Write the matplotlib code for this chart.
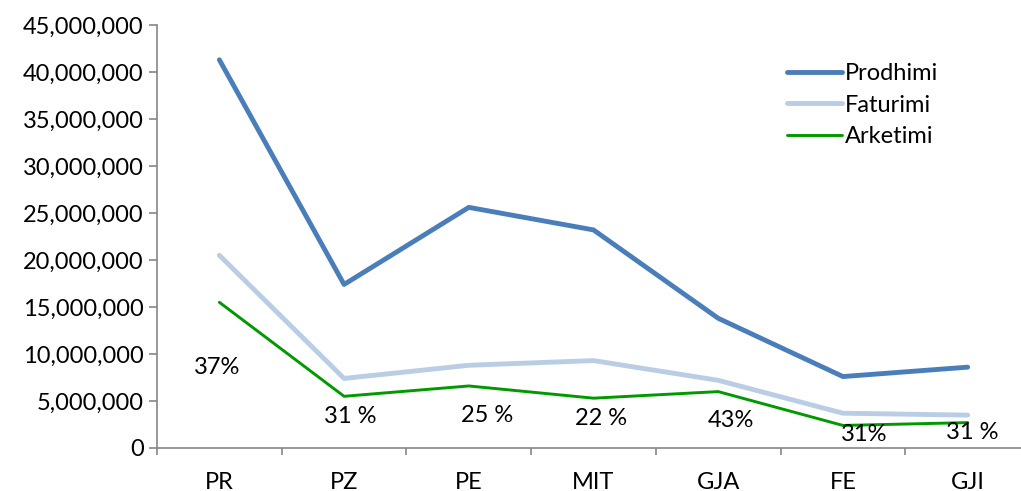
import matplotlib.pyplot as plt
import numpy as np

# data
categories = ["PR", "PZ", "PE", "MIT", "GJA", "FE", "GJI"]
prodhimi = [41300000, 17400000, 25600000, 23200000, 13800000, 7600000, 8600000]
faturimi = [20500000, 7400000, 8800000, 9300000, 7200000, 3700000, 3500000]
arketimi = [15500000, 5500000, 6600000, 5300000, 6000000, 2400000, 2700000]
pct_labels = ["37%", "31 %", "25 %", "22 %", "43%", "31%", "31 %"]

# where the percent labels sit (x offset from category, y value)
pct_dx = [-0.02, 0.05, 0.15, 0.06, 0.10, 0.17, 0.04]
pct_y = [8600000, 3300000, 3500000, 3100000, 2900000, 1400000, 1600000]

plt.rcParams['font.family'] = ['Lato', 'DejaVu Sans']
fs = 17

fig = plt.figure(figsize=(10.21, 4.91), dpi=100)
W, H = 1021, 491
ax = fig.add_axes([157 / W, (H - 448) / H, (1030 - 157) / W, (448 - 25) / H])

x = np.arange(len(categories))
ax.plot(x, prodhimi, color="#4A7EBB", lw=3.5, solid_capstyle="round", label="Prodhimi")
ax.plot(x, faturimi, color="#B9CDE5", lw=3.5, solid_capstyle="round", label="Faturimi")
ax.plot(x, arketimi, color="#009A00", lw=2.1, solid_capstyle="round", label="Arketimi")

for i, t in enumerate(pct_labels):
    ax.text(x[i] + pct_dx[i], pct_y[i], t, ha="center", va="center", fontsize=fs)

ax.set_xlim(-0.5, len(categories) - 0.5)
ax.set_ylim(0, 45000000)
ax.set_yticks(np.arange(0, 45000001, 5000000))
ax.yaxis.set_major_formatter(plt.FuncFormatter(lambda v, p: f"{int(v):,}"))

ax.set_xticks(x)
ax.set_xticklabels(categories)
ax.set_xticks(np.arange(-0.5, len(categories), 1), minor=True)
ax.tick_params(axis="x", which="major", length=0, pad=17, labelsize=fs)
ax.tick_params(axis="x", which="minor", length=5, width=1.2, color="#868686", direction="out")
ax.tick_params(axis="y", length=5.5, width=1.2, color="#868686", labelsize=fs, pad=4)

for s in ["top", "right"]:
    ax.spines[s].set_visible(False)
for s in ["left", "bottom"]:
    ax.spines[s].set_color("#868686")
    ax.spines[s].set_linewidth(1.2)

leg = ax.legend(loc="upper left", bbox_to_anchor=(0.722, 0.91), frameon=False,
                fontsize=fs, handlelength=2.3, handletextpad=0.12, labelspacing=0.45,
                borderpad=0, borderaxespad=0)

fig.savefig("out.png", dpi=100)
